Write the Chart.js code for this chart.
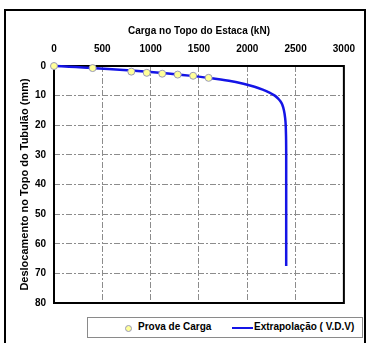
<!DOCTYPE html>
<html>
<head>
<meta charset="utf-8">
<script src="https://cdn.jsdelivr.net/npm/chart.js@4.4.1/dist/chart.umd.min.js"></script>
<style>
  html, body { margin: 0; padding: 0; background: #fff; }
  #quadro { position: relative; width: 366px; height: 343px; overflow: hidden; }
  #moldura { position: absolute; left: 4px; top: 9px; width: 358px; height: 345px; border: 2px solid #000; }
  #grafico { position: absolute; left: 0; top: 0; }
  #legenda { position: absolute; left: 87px; top: 317px; width: 274px; height: 19px; border: 1px solid #8a8a8a; background: #fff;
             font: bold 10px "Liberation Sans", Arial, sans-serif; color: #000; }
  #legenda span { position: absolute; top: 3px; white-space: nowrap; }
  .bolinha { position: absolute; left: 37px; top: 7px; width: 5px; height: 5px; border: 1px solid #9a9ab8; border-radius: 50%; background: #ffff99; }
  .traco { position: absolute; left: 144px; top: 9px; width: 21px; height: 2px; background: #1414e6; }
</style>
</head>
<body>
<div id="quadro">
  <div id="moldura"></div>
  <canvas id="grafico" width="366" height="343"></canvas>
  <div id="legenda">
    <div class="bolinha"></div><span style="left:50px">Prova de Carga</span>
    <div class="traco"></div><span style="left:166px">Extrapolação ( V.D.V)</span>
  </div>
</div>
<script>
// Prova de carga: carga (kN) e deslocamento medido (mm)
const cargaEnsaio = [0, 400, 800, 960, 1120, 1280, 1440, 1600];
const deslocEnsaio = [0, 0.7, 1.9, 2.3, 2.6, 2.9, 3.3, 4.0];

// Curva extrapolada (Van der Veen)
const cargaVDV = [0, 155, 300, 560, 800, 1000, 1180, 1330, 1470, 1600, 1810, 1960, 2075, 2160, 2230, 2285, 2320, 2345, 2362, 2380, 2392, 2398, 2402, 2403, 2403, 2403, 2403];
const deslocVDV = [0, 0.25, 0.5, 1, 1.5, 2, 2.5, 3, 3.5, 4, 5, 6, 7, 8, 9, 10, 11, 12, 13, 15, 17.5, 20, 25, 30, 40, 50, 67.5];

const ticksCarga = [0, 500, 1000, 1500, 2000, 2500, 3000];
const ticksDesloc = [0, 10, 20, 30, 40, 50, 60, 70, 80];

const fonte = '"Liberation Sans", Arial, sans-serif';

function pares(xs, ys) {
    return xs.map((x, i) => ({ x: x, y: ys[i] }));
}

// moldura preta da area de plotagem (antes das series, para os pontos ficarem por cima)
const bordaArea = {
    id: 'bordaArea',
    beforeDatasetsDraw(chart) {
        const a = chart.chartArea;
        const ctx = chart.ctx;
        ctx.save();
        ctx.strokeStyle = '#000';
        ctx.lineWidth = 2;
        ctx.strokeRect(a.left, a.top, a.right - a.left, a.bottom - a.top);
        ctx.restore();
    }
};

const ctx = document.getElementById('grafico').getContext('2d');

new Chart(ctx, {
    type: 'scatter',
    data: {
        datasets: [{
            label: 'Extrapolação ( V.D.V)',
            data: pares(cargaVDV, deslocVDV),
            showLine: true,
            borderColor: '#1414e6',
            borderWidth: 2.5,
            pointRadius: 0,
            tension: 0.2,
            clip: false,
            order: 2
        }, {
            label: 'Prova de Carga',
            data: pares(cargaEnsaio, deslocEnsaio),
            showLine: false,
            pointRadius: 3.5,
            pointBackgroundColor: '#ffff99',
            pointBorderColor: '#9a9ab8',
            pointBorderWidth: 1,
            clip: false,
            order: 1
        }]
    },
    options: {
        responsive: false,
        animation: false,
        layout: { padding: { left: 0, top: 0, right: 17, bottom: 40 } },
        plugins: {
            legend: { display: false },
            tooltip: { enabled: false }
        },
        scales: {
            x: {
                type: 'linear',
                position: 'top',
                min: 0,
                max: 3000,
                afterBuildTicks: s => { s.ticks = ticksCarga.map(v => ({ value: v })); },
                afterFit: s => { s.height = 66; },
                ticks: { padding: 11, color: '#000', font: { family: fonte, size: 10, weight: 'bold' }, callback: v => String(v) },
                grid: { color: '#8c8c8c', lineWidth: 1, drawTicks: false },
                border: { display: false, dash: [6, 2, 2, 2] },
                title: {
                    display: true,
                    text: 'Carga no Topo do Estaca (kN)',
                    color: '#000',
                    font: { family: fonte, size: 10, weight: 'bold' },
                    padding: { top: 25, bottom: 0 }
                }
            },
            y: {
                type: 'linear',
                reverse: true,
                min: 0,
                max: 80,
                afterBuildTicks: s => { s.ticks = ticksDesloc.map(v => ({ value: v })); },
                afterFit: s => { s.width = 54; },
                ticks: { padding: 8, color: '#000', font: { family: fonte, size: 10, weight: 'bold' }, callback: v => String(v) },
                grid: { color: '#8c8c8c', lineWidth: 1, drawTicks: false },
                border: { display: false, dash: [6, 2, 2, 2] },
                title: {
                    display: true,
                    text: 'Deslocamento no Topo do Tubulão (mm)',
                    color: '#000',
                    font: { family: fonte, size: 11, weight: 'bold' },
                    padding: { top: 18, bottom: 0 }
                }
            }
        }
    },
    plugins: [bordaArea]
});
</script>
</body>
</html>
